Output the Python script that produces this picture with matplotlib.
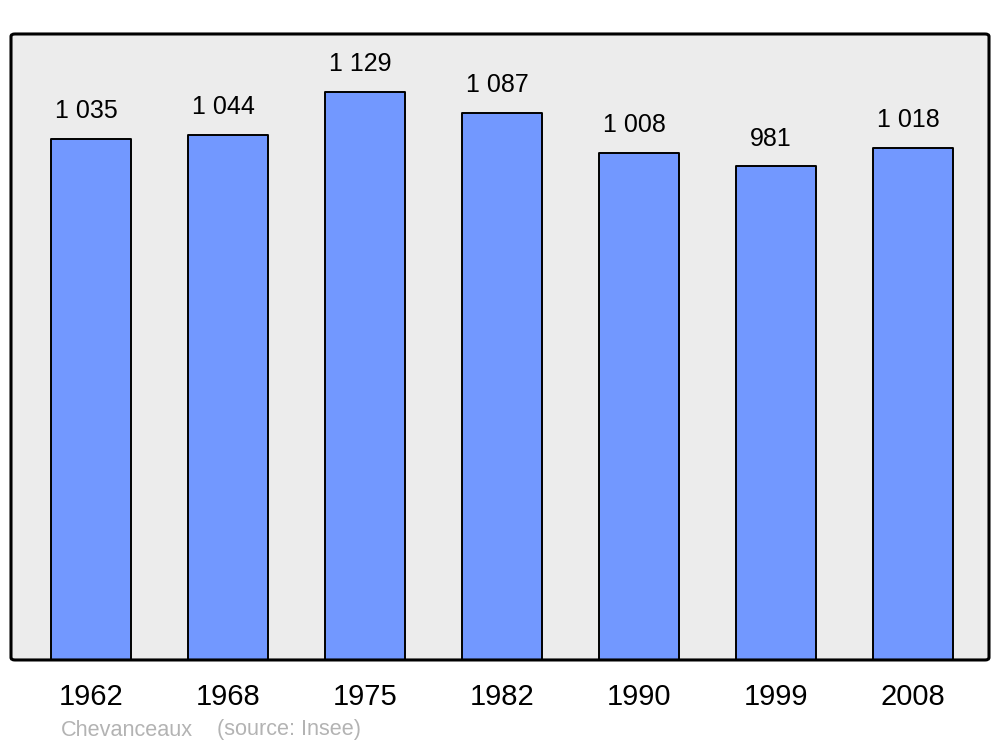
import numpy as np
import matplotlib.pyplot as plt
from matplotlib.patches import FancyBboxPatch

plt.rcParams['font.family'] = ['Liberation Sans', 'DejaVu Sans']

years = ['1962', '1968', '1975', '1982', '1990', '1999', '2008']
population = [1035, 1044, 1129, 1087, 1008, 981, 1018]
value_labels = ['1 035', '1 044', '1 129', '1 087', '1 008', '981', '1 018']

fig = plt.figure(figsize=(10, 7.47), dpi=100)
ax = fig.add_axes([0.011, 0.1165, 0.978, 0.838])
ax.set_facecolor('#ececec')

x = np.arange(len(years))
bars = ax.bar(x, population, width=0.582, color='#7298ff', edgecolor='black',
              linewidth=1.4, zorder=2)
for b in bars:
    b.set_joinstyle('round')

for xi, v, lab in zip(x, population, value_labels):
    ax.annotate(lab, xy=(xi, v), xytext=(-3.5, 20), textcoords='offset points',
                ha='center', va='center', fontsize=18)
    
for xi, yr in zip(x, years):
    ax.annotate(yr, xy=(xi, 0), xycoords=('data', 'axes fraction'),
                xytext=(0, -26.5), textcoords='offset points',
                ha='center', va='center', fontsize=21)

ax.set_xlim(-0.584, 6.555)
ax.set_ylim(0, 1244)
ax.set_xticks([])
ax.set_yticks([])
for s in ax.spines.values():
    s.set_visible(False)

# frame with slightly rounded corners
frame = FancyBboxPatch((0, 0), 1, 1, boxstyle='round,pad=0,rounding_size=0.004',
                       transform=ax.transAxes, facecolor='none', edgecolor='black',
                       linewidth=2.2, clip_on=False, zorder=5)
ax.add_patch(frame)

fig.text(0.061, 1 - 730 / 747, 'Chevanceaux', color='#b3b3b3', fontsize=15.6,
         ha='left', va='center')
fig.text(0.217, 1 - 730 / 747, '(source: Insee)', color='#b3b3b3', fontsize=15.6,
         ha='left', va='center')

fig.savefig('out.png', dpi=100)
